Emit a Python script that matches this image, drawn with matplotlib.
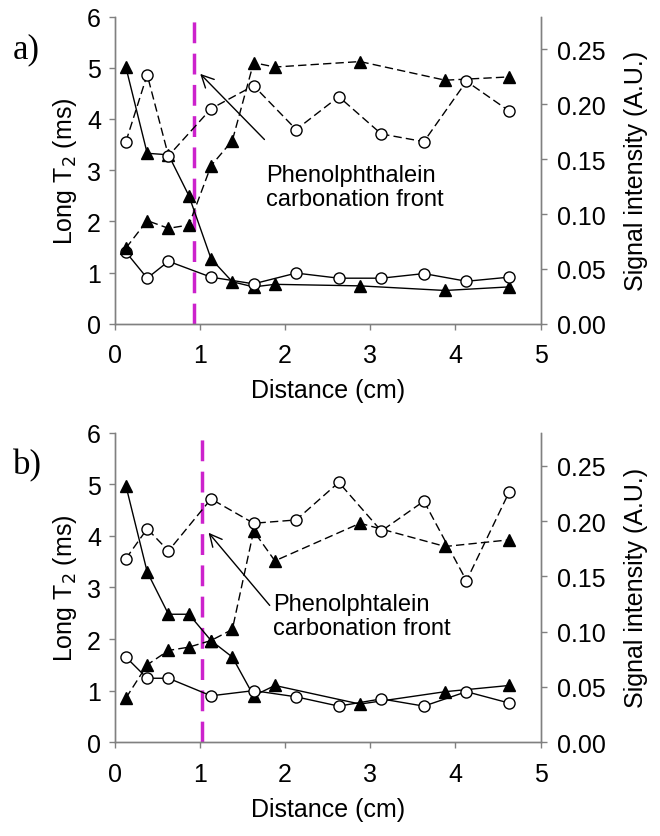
import matplotlib.pyplot as plt

plt.rcParams['font.family'] = ['Liberation Sans', 'DejaVu Sans']

# x positions (cm)
x_tri = [0.13, 0.38, 0.63, 0.87, 1.13, 1.38, 1.63, 1.88, 2.88, 3.88, 4.63]
x_circ = [0.13, 0.38, 0.63, 1.13, 1.63, 2.13, 2.63, 3.13, 3.63, 4.13, 4.63]

# panel a) long T2 (ms), left axis
a_t2_tri = [5.01, 3.33, 3.30, 2.50, 1.27, 0.82, 0.72, 0.77, 0.74, 0.65, 0.72]
a_t2_circ = [1.40, 0.89, 1.22, 0.91, 0.78, 0.99, 0.89, 0.89, 0.98, 0.83, 0.91]
# panel a) signal intensity (A.U.), right axis
a_sig_tri = [0.069, 0.094, 0.087, 0.090, 0.144, 0.167, 0.238, 0.234, 0.239, 0.222, 0.225]
a_sig_circ = [0.166, 0.227, 0.153, 0.196, 0.217, 0.177, 0.207, 0.173, 0.166, 0.221, 0.194]

# panel b)
b_t2_tri = [4.97, 3.30, 2.48, 2.48, 1.97, 1.65, 0.90, 1.10, 0.74, 0.98, 1.10]
b_t2_circ = [1.65, 1.24, 1.24, 0.90, 1.00, 0.88, 0.70, 0.84, 0.70, 0.98, 0.76]
b_sig_tri = [0.040, 0.070, 0.083, 0.086, 0.092, 0.102, 0.191, 0.164, 0.198, 0.177, 0.183]
b_sig_circ = [0.166, 0.193, 0.173, 0.220, 0.198, 0.201, 0.235, 0.191, 0.218, 0.146, 0.226]

fronts = [0.93, 1.02]
labels = ['Phenolphthalein\ncarbonation front', 'Phenolphtalein\ncarbonation front']
arrows = [((1.78, 3.56), (0.98, 4.92), (1.78, 2.67)),
          ((1.84, 2.61), (1.08, 4.10), (1.86, 2.45))]
panels = [(a_t2_tri, a_t2_circ, a_sig_tri, a_sig_circ),
          (b_t2_tri, b_t2_circ, b_sig_tri, b_sig_circ)]

fig = plt.figure(figsize=(6.6, 8.37), dpi=100)
boxes = [[0.174, 0.612, 0.645, 0.367], [0.174, 0.112, 0.645, 0.370]]
spine_c = '#808080'
fs = 18

for i in range(2):
    t_tri, t_circ, s_tri, s_circ = panels[i]
    ax = fig.add_axes(boxes[i])
    ax2 = ax.twinx()

    ax.plot(x_tri, t_tri, '-', color='black', lw=1, marker='^', ms=9, mfc='black', mec='black')
    ax.plot(x_circ, t_circ, '-', color='black', lw=1, marker='o', ms=8, mfc='white', mec='black')
    ax2.plot(x_tri, s_tri, '--', color='black', lw=1, dashes=(6, 3), marker='^', ms=9, mfc='black', mec='black')
    ax2.plot(x_circ, s_circ, '--', color='black', lw=1, dashes=(6, 3), marker='o', ms=8, mfc='white', mec='black')

    ax.axvline(fronts[i], color='#CC22CC', lw=2.5, dashes=(6, 3), zorder=0)

    tail, head, txt = arrows[i]
    ax.annotate('', xy=head, xytext=tail,
                arrowprops=dict(arrowstyle='->', color='black', lw=1, mutation_scale=22))
    ax.text(txt[0], txt[1], labels[i], fontsize=17, va='center', ha='left', linespacing=1.1)

    ax.set_xlim(0, 5)
    ax.set_ylim(0, 6)
    ax2.set_ylim(0, 0.28)
    ax.set_xticks(range(6))
    ax.set_yticks(range(7))
    ax2.set_yticks([0, 0.05, 0.10, 0.15, 0.20, 0.25])
    ax2.set_yticklabels(['0.00', '0.05', '0.10', '0.15', '0.20', '0.25'])

    for a in (ax, ax2):
        a.spines['top'].set_visible(False)
        for s in ('left', 'right', 'bottom'):
            a.spines[s].set_color(spine_c)
            a.spines[s].set_linewidth(1)
        a.tick_params(labelsize=fs, color=spine_c, length=4, width=1)
    ax.tick_params(axis='x', pad=10)
    ax.tick_params(axis='y', pad=6)
    ax2.tick_params(axis='y', pad=8)

    ax.set_xlabel('Distance (cm)', fontsize=fs, labelpad=8)
    ax.set_ylabel('Long T$_2$ (ms)', fontsize=fs, labelpad=6)
    ax2.set_ylabel('Signal intensity (A.U.)', fontsize=fs, labelpad=13)

    fig.text(0.02, boxes[i][1] + boxes[i][3] - 0.038, 'ab'[i] + ')', fontsize=25,
             family='Liberation Serif', va='center', ha='left')

fig.savefig('out.png', dpi=100)
